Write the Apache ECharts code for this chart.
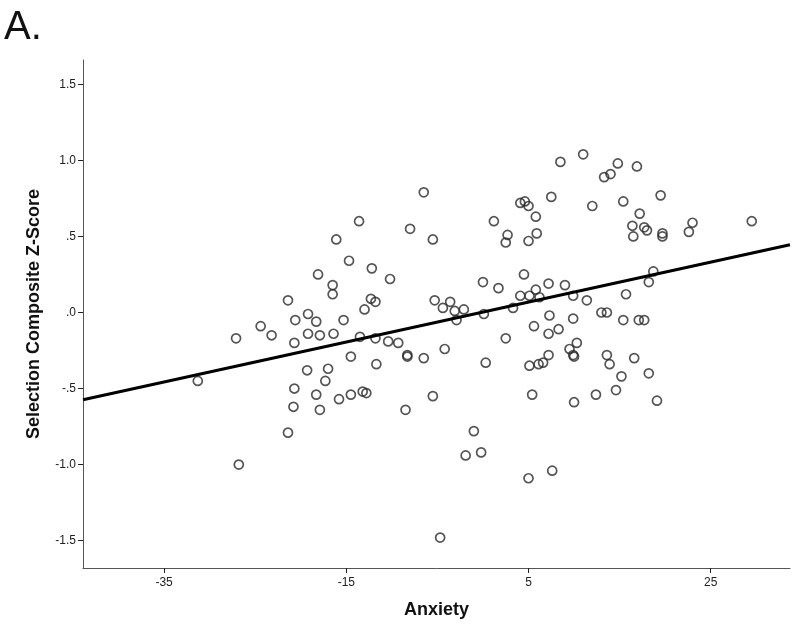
<!DOCTYPE html>
<html>
<head>
<meta charset="utf-8">
<script src="https://cdn.jsdelivr.net/npm/echarts@6/dist/echarts.min.js"></script>
<style>
html,body{margin:0;padding:0;background:#fff;}
#chart{width:800px;height:630px;}
</style>
</head>
<body>
<div id="chart"></div>
<script>
// Data
const anxiety = [
-27.1,-24.4,-23.2,-21.4,-20.7,-20.6,-19.2,-19.2,-18.3,-17.9,-18.1,-31.3,-19.3,-20.7,-18.3,-20.8,-17.9,-21.4,-26.8,
-6.5,-13.6,-8.0,-16.1,-5.5,1.2,4.1,4.6,5.0,5.8,2.7,2.5,5.0,5.9,-14.7,-12.2,-16.5,-16.5,-10.2,0.0,1.7,4.5,
-12.3,-11.8,-13.0,-5.3,-3.6,-4.4,-3.1,-2.1,4.1,5.1,5.8,-15.3,-16.4,-13.5,-11.8,-2.9,0.1,3.3,5.6,2.5,
-10.4,-9.3,-4.2,-14.5,-8.3,-8.3,-6.5,-11.7,0.3,5.1,6.1,6.6,-17.0,-17.3,-15.8,-14.5,-13.2,-12.8,-8.5,-5.5,5.4,
-1.0,-1.9,-0.2,5.0,-4.7,
11.0,8.5,14.8,16.9,13.3,14.0,7.5,19.5,12.0,15.4,17.2,16.4,16.5,17.7,18.0,19.7,19.7,22.6,23.0,29.5,
18.7,18.2,7.2,9.0,6.2,9.9,15.7,11.4,13.0,13.6,7.3,9.9,15.4,17.1,17.7,8.3,7.2,10.3,9.5,7.2,9.9,10.0,
13.6,16.6,13.9,15.2,18.2,12.4,14.6,10.0,19.1,7.6
];
const zScore = [
-0.17,-0.09,-0.15,0.08,-0.20,-0.05,-0.14,-0.01,-0.06,-0.15,0.25,-0.45,-0.38,-0.50,-0.54,-0.62,-0.64,-0.79,-1.00,
0.79,0.60,0.55,0.48,0.48,0.60,0.72,0.73,0.70,0.63,0.51,0.46,0.47,0.52,0.34,0.29,0.18,0.12,0.22,0.20,0.16,0.25,
0.09,0.07,0.02,0.08,0.07,0.03,0.01,0.02,0.11,0.11,0.15,-0.05,-0.14,-0.16,-0.17,-0.05,-0.01,0.03,-0.09,-0.17,
-0.19,-0.20,-0.24,-0.29,-0.28,-0.29,-0.30,-0.34,-0.33,-0.35,-0.34,-0.33,-0.37,-0.45,-0.57,-0.54,-0.52,-0.53,-0.64,-0.55,-0.54,
-0.78,-0.94,-0.92,-1.09,-1.48,
1.04,0.99,0.98,0.96,0.89,0.91,0.76,0.77,0.70,0.73,0.65,0.57,0.50,0.56,0.54,0.52,0.50,0.53,0.59,0.60,
0.27,0.20,0.19,0.18,0.10,0.11,0.12,0.08,0.00,0.00,-0.02,-0.04,-0.05,-0.05,-0.05,-0.11,-0.14,-0.20,-0.24,-0.28,-0.28,-0.29,
-0.28,-0.30,-0.34,-0.42,-0.40,-0.54,-0.51,-0.59,-0.58,-1.04
];
const fitX = [-43.9, 33.7];
const fitY = [-0.574, 0.445];
const xTickValues = [-35, -15, 5, 25];
const xTickLabels = ['-35', '-15', '5', '25'];
const yTickValues = [-1.5, -1.0, -0.5, 0, 0.5, 1.0, 1.5];
const yTickLabels = ['-1.5', '-1.0', '-.5', '.0', '.5', '1.0', '1.5'];
const xLabel = 'Anxiety';
const yLabel = 'Selection Composite Z-Score';
const panelLabel = 'A.';

const points = anxiety.map((x, i) => [x, zScore[i]]);
const fitLine = fitX.map((x, i) => [x, fitY[i]]);

const chart = echarts.init(document.getElementById('chart'), null, {renderer: 'canvas'});
const tickFont = '"Liberation Sans Narrow", "Liberation Sans", Arial, sans-serif';
const axisColor = '#555';
chart.setOption({
  animation: false,
  backgroundColor: '#fff',
  grid: {left: 83, right: 10, top: 60, bottom: 62, containLabel: false},
  graphic: [{
    type: 'text', left: 4, top: 8,
    style: {text: panelLabel, font: '300 40px "Liberation Sans", "DejaVu Sans", sans-serif', fill: '#111'}
  }],
  xAxis: {
    type: 'value', min: -43.9, max: 33.7,
    name: xLabel, nameLocation: 'middle', nameGap: 33,
    nameTextStyle: {fontFamily: '"Liberation Sans", Arial, sans-serif', fontWeight: 'bold', fontSize: 18, color: '#111'},
    axisLine: {show: true, onZero: false, lineStyle: {color: axisColor, width: 1}},
    axisTick: {show: true, length: 5, customValues: xTickValues, lineStyle: {color: '#222', width: 1}},
    axisLabel: {
      show: true, customValues: xTickValues, margin: 9,
      fontFamily: tickFont, fontSize: 12, color: '#222',
      formatter: v => { const i = xTickValues.indexOf(v); return i >= 0 ? xTickLabels[i] : ''; }
    },
    splitLine: {show: false}
  },
  yAxis: {
    type: 'value', min: -1.68, max: 1.66,
    name: yLabel, nameLocation: 'middle', nameGap: 40, nameRotate: 90,
    nameTextStyle: {fontFamily: '"Liberation Sans", Arial, sans-serif', fontWeight: 'bold', fontSize: 18, color: '#111'},
    axisLine: {show: true, onZero: false, lineStyle: {color: axisColor, width: 1}},
    axisTick: {show: true, length: 5, customValues: yTickValues, lineStyle: {color: '#222', width: 1}},
    axisLabel: {
      show: true, customValues: yTickValues, margin: 7,
      fontFamily: tickFont, fontSize: 12, color: '#222',
      formatter: v => { const i = yTickValues.findIndex(t => Math.abs(t - v) < 1e-9); return i >= 0 ? yTickLabels[i] : ''; }
    },
    splitLine: {show: false}
  },
  series: [
    {
      type: 'scatter', data: points, symbol: 'circle', symbolSize: 9,
      itemStyle: {color: 'rgba(0,0,0,0)', borderColor: '#2a2a2a', borderWidth: 1.7},
      silent: true, z: 2
    },
    {
      type: 'line', data: fitLine, symbol: 'none', silent: true, z: 3,
      lineStyle: {color: '#000', width: 3}
    }
  ]
});
</script>
</body>
</html>
